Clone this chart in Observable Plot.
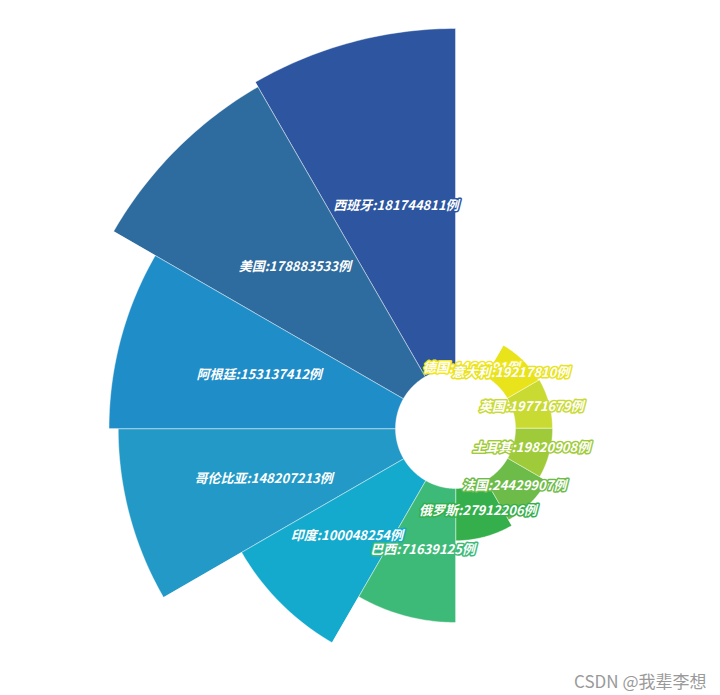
<!DOCTYPE html>
<html>
<head>
<meta charset="utf-8">
<script src="https://cdn.jsdelivr.net/npm/d3@7"></script>
<script src="https://cdn.jsdelivr.net/npm/@observablehq/plot@0.6"></script>
<style>
  html, body { margin: 0; padding: 0; background: #fff; }
  #chart svg { display: block; }
</style>
</head>
<body>
<div id="chart"></div>
<script>
// Data (clockwise from 12 o'clock)
const names = ["德国", "意大利", "英国", "土耳其", "法国", "俄罗斯", "巴西", "印度", "哥伦比亚", "阿根廷", "美国", "西班牙"];
const values = [1460291, 19217810, 19771679, 19820908, 24429907, 27912206, 71639125, 100048254, 148207213, 153137412, 178883533, 181744811];
const colors = ["#f2e61a", "#e8e31a", "#c9da33", "#9fcb3a", "#6dbb48", "#35af4b", "#3eba78", "#14aacd", "#2299c6", "#1f8dc8", "#2e6b9e", "#2d55a0"];
const unit = "例";
const watermark = "CSDN @我辈李想";

// Layout
const W = 720, H = 695;
const cx = 455, cy = 428;          // pie centre in pixels
const innerPx = 60, outerPx = 400; // radii in pixels
const maxV = d3.max(values);
const k = (outerPx - innerPx) / maxV; // pixels per case
const hole = innerPx / k;              // inner radius in data units

const n = names.length;
const step = 2 * Math.PI / n;
const seg = 40;

// sector polygons in data space (radius = hole + value)
const poly = [];
names.forEach((name, i) => {
  const a0 = i * step, a1 = (i + 1) * step;
  const rOut = hole + values[i];
  for (let j = 0; j <= seg; j++) {
    const a = a0 + (a1 - a0) * j / seg;
    poly.push({name, x: rOut * Math.sin(a), y: rOut * Math.cos(a)});
  }
  for (let j = seg; j >= 0; j--) {
    const a = a0 + (a1 - a0) * j / seg;
    poly.push({name, x: hole * Math.sin(a), y: hole * Math.cos(a)});
  }
});

const labels = names.map((name, i) => {
  const am = (i + 0.5) * step;
  const rm = hole + values[i] / 2;
  return {name, text: `${name}:${values[i]}${unit}`, x: rm * Math.sin(am), y: rm * Math.cos(am)};
});

const chart = Plot.plot({
  width: W,
  height: H,
  margin: 0,
  x: {domain: [-cx / k, (W - cx) / k], axis: null},
  y: {domain: [-(H - cy) / k, cy / k], axis: null},
  color: {domain: names, range: colors},
  style: {background: "#fff"},
  marks: [
    Plot.line(poly, {x: "x", y: "y", z: "name", fill: "name", stroke: "#ffffff", strokeWidth: 0.6, strokeOpacity: 0.7, curve: "linear-closed"}),
    Plot.text(labels, {
      x: "x", y: "y", text: "text",
      fill: "white", stroke: "name", strokeWidth: 3,
      fontSize: 13, fontWeight: "bold", fontStyle: "italic",
      fontFamily: "'Noto Sans CJK SC', 'Noto Sans', sans-serif",
      textAnchor: "middle", lineAnchor: "middle", dy: -1
    }),
    Plot.text([watermark], {
      frameAnchor: "bottom-right", text: d => d, dx: -14, dy: -8,
      fill: "#9a9a9a", fontSize: 17,
      fontFamily: "'Noto Sans CJK SC', 'Noto Sans', sans-serif"
    })
  ]
});
document.getElementById("chart").appendChild(chart);
</script>
</body>
</html>
